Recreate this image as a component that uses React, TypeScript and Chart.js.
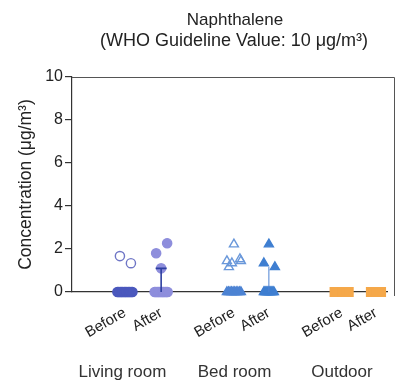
import { useEffect, useRef } from "react";
import { Chart, registerables } from "chart.js";

Chart.register(...registerables);

// ---- text ----
const chartTitle = "Naphthalene";
const chartSubtitle = "(WHO Guideline Value: 10 \u03bcg/m\u00b3)";
const yAxisTitle = "Concentration (\u03bcg/m\u00b3)";
const groupLabels = ["Living room", "Bed room", "Outdoor"];
const conditionLabels = ["Before", "After", "Before", "After", "Before", "After"];
const yTickValues = [0, 2, 4, 6, 8, 10];

// ---- data (µg/m³) ----
const zeros = (n: number) => Array.from({ length: n }, () => 0);
const livingBefore = [1.67, 1.34, ...zeros(12)];
const livingAfter = [1.8, 2.27, 1.1, ...zeros(11)];
const bedBefore = [1.16, 1.53, 2.22, 1.44, 1.44, 1.34, ...zeros(10)];
const bedAfter = [1.34, 1.16, 2.22, ...zeros(11)];
const outdoorBefore = zeros(14);
const outdoorAfter = zeros(14);
const errorTop = [null, 1.1, null, 1.16, null, null];

// ---- layout / style ----
const X_MAX = 10;
const PX_PER_UNIT = 31.5;
const catPos = [1.68, 2.83, 5.14, 6.25, 8.56, 9.65];
const groupPos = [1.6, 5.16, 8.57];
const zeroSpreadPx = [7.5, 6.5, 7, 5, 7, 5];
const jitterPx = [-5, 6, 0, -7, 7, -2];
const FONT = "'Liberation Sans', Arial, Helvetica, sans-serif";

const series = [livingBefore, livingAfter, bedBefore, bedAfter, outdoorBefore, outdoorAfter];
const styles = [
  { shape: "circle", r: 4.6, zeroFill: "#4b58bd", fill: "rgba(255,255,255,0)", border: "#6f76c6", zeroBorder: "#4b58bd" },
  { shape: "circle", r: 4.6, zeroFill: "#8e8edc", fill: "#8e8edc", border: "#8e8edc", zeroBorder: "#8e8edc" },
  { shape: "triangle", r: 5.2, zeroFill: "#4d83d3", fill: "rgba(255,255,255,0)", border: "#6a98da", zeroBorder: "#4d83d3" },
  { shape: "triangle", r: 5.2, zeroFill: "#3f7fd1", fill: "#3f7fd1", border: "#3f7fd1", zeroBorder: "#3f7fd1" },
  { shape: "rect", r: 6.2, zeroFill: "#f5a84a", fill: "#f5a84a", border: "#f5a84a", zeroBorder: "#f5a84a" },
  { shape: "rect", r: 6.2, zeroFill: "#f5a84a", fill: "#f5a84a", border: "#f5a84a", zeroBorder: "#f5a84a" },
];
const errStyles = [null, { color: "#2d3fa0", width: 1.6, cap: 11 }, null, { color: "#4d83d3", width: 1, cap: 0 }, null, null];

function buildPoints(values: number[], i: number) {
  const nZero = values.filter((v) => v === 0).length;
  let zi = 0;
  let ni = 0;
  return values.map((v) => {
    let off: number;
    if (v === 0) {
      const s = zeroSpreadPx[i];
      off = nZero > 1 ? -s + (2 * s * zi) / (nZero - 1) : 0;
      zi++;
    } else {
      off = jitterPx[ni % jitterPx.length];
      ni++;
    }
    return { x: catPos[i] + off / PX_PER_UNIT, y: v };
  });
}

const overlayPlugin = {
  id: "overlay",
  afterDraw(chart: any) {
    const { ctx, chartArea, scales } = chart;
    ctx.save();
    // error bars
    errorTop.forEach((top, i) => {
      const st = errStyles[i];
      if (top == null || !st) return;
      const x = scales.x.getPixelForValue(catPos[i]);
      const y0 = scales.y.getPixelForValue(0);
      const y1 = scales.y.getPixelForValue(top);
      ctx.strokeStyle = st.color;
      ctx.lineWidth = st.width;
      ctx.beginPath();
      ctx.moveTo(x, y0);
      ctx.lineTo(x, y1);
      if (st.cap) {
        ctx.moveTo(x - st.cap / 2, y1);
        ctx.lineTo(x + st.cap / 2, y1);
      }
      ctx.stroke();
    });
    // frame top / right
    ctx.strokeStyle = "#555";
    ctx.lineWidth = 1;
    const r = chartArea.right + 7;
    ctx.beginPath();
    ctx.moveTo(chartArea.left, chartArea.top + 0.5);
    ctx.lineTo(r + 0.5, chartArea.top + 0.5);
    ctx.lineTo(r + 0.5, chartArea.bottom + 4);
    ctx.stroke();
    // titles
    ctx.fillStyle = "#222";
    ctx.textAlign = "center";
    ctx.textBaseline = "middle";
    ctx.font = `17px ${FONT}`;
    ctx.fillText(chartTitle, 235, 20);
    ctx.font = `18px ${FONT}`;
    ctx.fillText(chartSubtitle, 234, 41);
    ctx.restore();
  },
};

export default function App() {
  const ref = useRef<HTMLCanvasElement | null>(null);
  useEffect(() => {
    if (!ref.current) return;
    const datasets = series.map((vals, i) => {
      const st = styles[i];
      return {
        label: conditionLabels[i],
        data: buildPoints(vals, i),
        clip: false,
        pointStyle: st.shape,
        pointRadius: st.r,
        pointHoverRadius: st.r,
        pointBorderWidth: 1.4,
        pointBackgroundColor: (c: any) => (c.raw && c.raw.y === 0 ? st.zeroFill : st.fill),
        pointBorderColor: (c: any) => (c.raw && c.raw.y === 0 ? st.zeroBorder : st.border),
        showLine: false,
      };
    });
    const chart = new Chart(ref.current, {
      type: "scatter",
      data: { datasets } as any,
      plugins: [overlayPlugin],
      options: {
        animation: false,
        responsive: false,
        devicePixelRatio: 1,
        layout: { padding: { top: 77, right: 11, left: 0, bottom: 0 } },
        plugins: { legend: { display: false }, tooltip: { enabled: false }, title: { display: false } },
        scales: {
          x: {
            type: "linear",
            min: 0,
            max: X_MAX,
            position: "bottom",
            weight: 0,
            afterBuildTicks: (s: any) => {
              s.ticks = catPos.map((v) => ({ value: v }));
            },
            afterFit: (s: any) => {
              s.height = 52;
            },
            ticks: {
              autoSkip: false,
              minRotation: 30,
              maxRotation: 30,
              padding: 12,
              color: "#222",
              font: { family: FONT, size: 15 },
              callback: (_v: any, idx: number) => conditionLabels[idx],
            },
            grid: { display: false, drawTicks: false },
            border: { display: true, color: "#333", width: 1.2 },
          },
          x2: {
            type: "linear",
            min: 0,
            max: X_MAX,
            position: "bottom",
            weight: 1,
            afterBuildTicks: (s: any) => {
              s.ticks = groupPos.map((v) => ({ value: v }));
            },
            afterFit: (s: any) => {
              s.height = 39;
            },
            ticks: {
              autoSkip: false,
              maxRotation: 0,
              minRotation: 0,
              padding: 18,
              color: "#333",
              font: { family: FONT, size: 17 },
              callback: (_v: any, idx: number) => groupLabels[idx],
            },
            grid: { display: false, drawTicks: false },
            border: { display: false },
          },
          y: {
            type: "linear",
            min: 0,
            max: 10,
            afterBuildTicks: (s: any) => {
              s.ticks = yTickValues.map((v) => ({ value: v }));
            },
            afterFit: (s: any) => {
              s.width = 72;
            },
            ticks: { padding: 2, color: "#222", font: { family: FONT, size: 16 } },
            grid: { display: true, drawOnChartArea: false, drawTicks: true, tickLength: 7, color: "#333", lineWidth: 1.2 },
            border: { display: true, color: "#333", width: 1.2 },
            title: {
              display: true,
              text: yAxisTitle,
              color: "#222",
              font: { family: FONT, size: 17.5 },
              padding: { top: 16, bottom: 0 },
            },
          },
        },
      } as any,
    });
    return () => chart.destroy();
  }, []);
  return (
    <div style={{ position: "fixed", left: 0, top: 0, width: 398, height: 383, background: "#fff" }}>
      <canvas ref={ref} width={398} height={383} style={{ display: "block", width: 398, height: 383 }} />
    </div>
  );
}
